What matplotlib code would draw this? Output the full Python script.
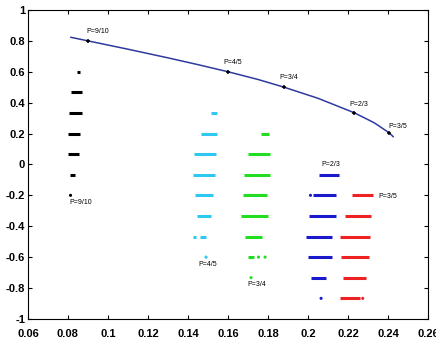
import matplotlib
matplotlib.use("Agg")
import matplotlib.pyplot as plt
import numpy as np

# curve
curve_x = [0.0815, 0.09, 0.11, 0.13, 0.145, 0.16, 0.175, 0.188, 0.205, 0.223, 0.233, 0.2405, 0.2425]
curve_y = [0.823, 0.80, 0.746, 0.690, 0.646, 0.60, 0.55, 0.50, 0.428, 0.335, 0.27, 0.205, 0.18]

# marked points on the curve
pts_x = [0.09, 0.16, 0.188, 0.223, 0.2405]
pts_y = [0.80, 0.60, 0.50, 0.335, 0.205]
pts_lab = ["P=9/10", "P=4/5", "P=3/4", "P=2/3", "P=3/5"]
pts_lab_x = [0.089, 0.1575, 0.1855, 0.2205, 0.240]
pts_lab_y = [0.86, 0.66, 0.566, 0.39, 0.245]

# dashes: (y level, x start, x end) per cluster
black_y = [0.6, 0.467, 0.333, 0.2, 0.067, -0.067]
black_x0 = [0.0845, 0.0815, 0.0803, 0.0802, 0.0802, 0.0812]
black_x1 = [0.0862, 0.0870, 0.0868, 0.0858, 0.0853, 0.0833]

cyan_y = [0.333, 0.2, 0.067, -0.067, -0.2, -0.333, -0.467, -0.467]
cyan_x0 = [0.1515, 0.1466, 0.1432, 0.1425, 0.1437, 0.1445, 0.1425, 0.1462]
cyan_x1 = [0.1545, 0.1545, 0.1538, 0.1533, 0.1525, 0.1516, 0.1438, 0.1488]

green_y = [0.2, 0.067, -0.067, -0.2, -0.333, -0.467, -0.6]
green_x0 = [0.1767, 0.1702, 0.1679, 0.1675, 0.1667, 0.1687, 0.1699]
green_x1 = [0.1805, 0.1811, 0.1808, 0.1795, 0.1798, 0.1771, 0.1728]

blue_y = [-0.067, -0.2, -0.333, -0.467, -0.6, -0.733]
blue_x0 = [0.2054, 0.2025, 0.2004, 0.1990, 0.1999, 0.2015]
blue_x1 = [0.2154, 0.2141, 0.2138, 0.2121, 0.2121, 0.2091]

red_y = [-0.2, -0.333, -0.467, -0.6, -0.733, -0.867]
red_x0 = [0.2220, 0.2184, 0.2162, 0.2167, 0.2175, 0.2162]
red_x1 = [0.2325, 0.2313, 0.2311, 0.2303, 0.2287, 0.2258]

# single dots
dot_x = [0.0813, 0.149, 0.1752, 0.1785, 0.1715, 0.2012, 0.2065, 0.2273]
dot_y = [-0.2, -0.6, -0.6, -0.6, -0.733, -0.2, -0.867, -0.867]
dot_c = ["black", "#2fc8f0", "#22dd22", "#22dd22", "#22dd22", "#1a1acc", "#1a1acc", "#ee2222"]

# cluster labels
cl_lab = ["P=9/10", "P=4/5", "P=3/4", "P=2/3", "P=3/5"]
cl_x = [0.0805, 0.145, 0.1695, 0.2065, 0.235]
cl_y = [-0.247, -0.65, -0.78, 0.0, -0.21]

plt.rcParams["font.family"] = ["Liberation Sans", "DejaVu Sans"]

fig = plt.figure(figsize=(4.36, 3.44), dpi=100)
ax = fig.add_axes([0.064, 0.073, 0.918, 0.898])

lw = 2.2
ax.hlines(black_y, black_x0, black_x1, color="black", lw=lw)
ax.hlines(cyan_y, cyan_x0, cyan_x1, color="#2fc8f0", lw=lw)
ax.hlines(green_y, green_x0, green_x1, color="#22dd22", lw=lw)
ax.hlines(blue_y, blue_x0, blue_x1, color="#1a1acc", lw=lw)
ax.hlines(red_y, red_x0, red_x1, color="#ee2222", lw=lw)
ax.scatter(dot_x, dot_y, c=dot_c, s=5, linewidths=0)

ax.plot(curve_x, curve_y, color="#2e3a9e", lw=1.1)
ax.plot(pts_x, pts_y, "+", color="black", ms=3.5, mew=1.1)

for t, x, y in zip(pts_lab, pts_lab_x, pts_lab_y):
    ax.text(x, y, t, fontsize=5, ha="left", va="center")
for t, x, y in zip(cl_lab, cl_x, cl_y):
    ax.text(x, y, t, fontsize=5, ha="left", va="center")

ax.set_xlim(0.06, 0.26)
ax.set_ylim(-1, 1)
ax.set_xticks(np.arange(0.06, 0.261, 0.02))
ax.set_xticklabels(["0.06", "0.08", "0.1", "0.12", "0.14", "0.16", "0.18", "0.2", "0.22", "0.24", "0.26"])
ax.set_yticks(np.arange(-1, 1.01, 0.2))
ax.set_yticklabels(["-1", "-0.8", "-0.6", "-0.4", "-0.2", "0", "0.2", "0.4", "0.6", "0.8", "1"])
ax.tick_params(direction="in", top=True, right=True, length=3, width=0.8,
               labelsize=8, pad=2)
ax.tick_params(axis="x", pad=7)
for lab in ax.get_xticklabels() + ax.get_yticklabels():
    lab.set_fontweight("bold")
for s in ax.spines.values():
    s.set_linewidth(0.8)

fig.savefig("out.png", dpi=100)
